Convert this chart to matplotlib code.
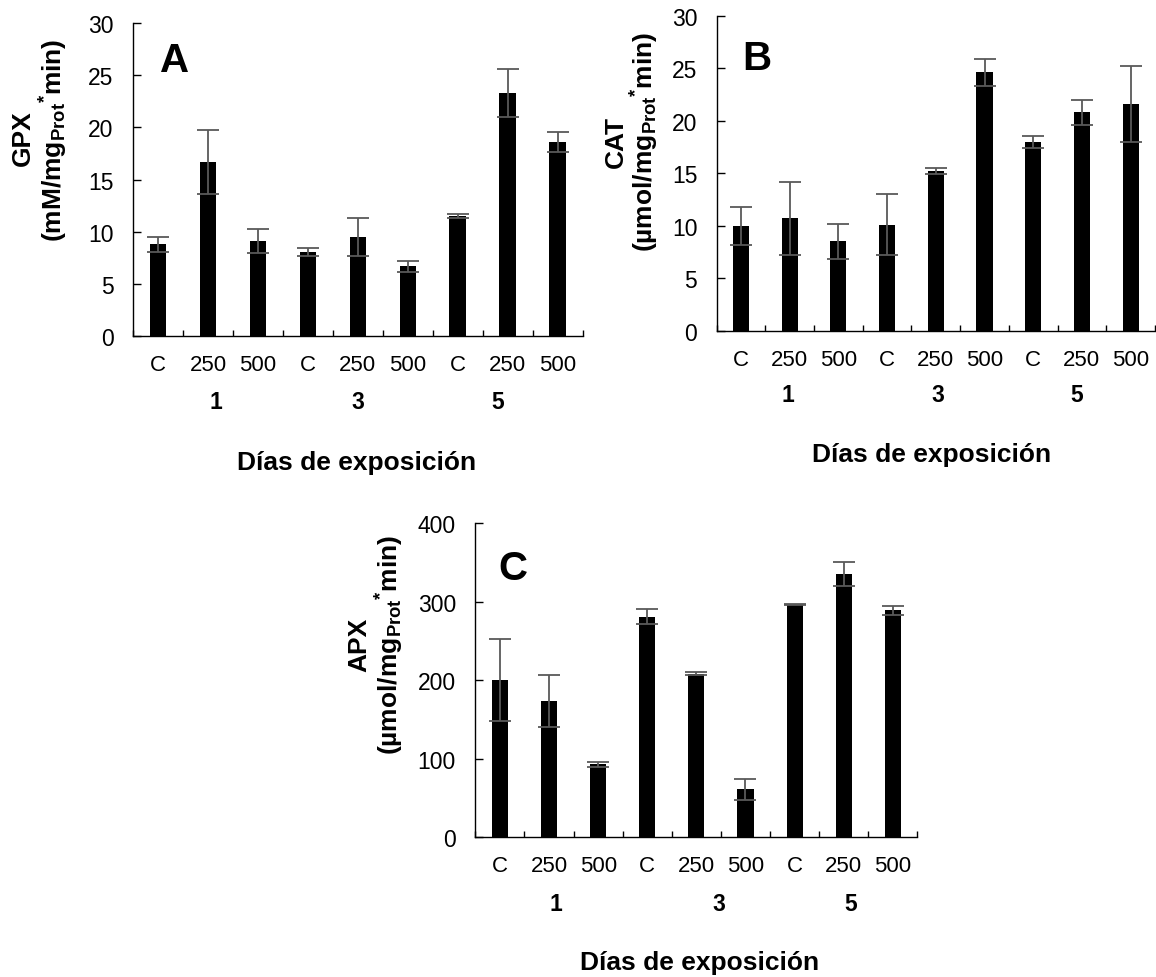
import numpy as np
import matplotlib
matplotlib.use("Agg")
from matplotlib import pyplot as plt

plt.rcParams['font.family'] = ['Liberation Sans', 'DejaVu Sans']
plt.rcParams['mathtext.fontset'] = 'custom'
plt.rcParams['mathtext.rm'] = 'Liberation Sans'
plt.rcParams['mathtext.bf'] = 'Liberation Sans:bold'
plt.rcParams['mathtext.it'] = 'Liberation Sans:italic'

# data
doses = ['C', '250', '500', 'C', '250', '500', 'C', '250', '500']
days = ['1', '3', '5']

gpx = [8.8, 16.7, 9.1, 8.1, 9.5, 6.7, 11.5, 23.3, 18.6]
gpx_err = [0.7, 3.1, 1.15, 0.4, 1.8, 0.55, 0.2, 2.3, 1.0]

cat = [10.0, 10.7, 8.5, 10.1, 15.2, 24.6, 18.0, 20.8, 21.6]
cat_err = [1.8, 3.5, 1.7, 2.9, 0.3, 1.3, 0.55, 1.2, 3.6]

apx = [200, 174, 93, 281, 208, 61, 296, 335, 289]
apx_err = [52, 33, 3.5, 9, 2, 13.5, 0.5, 15, 6]

fig = plt.figure(figsize=(11.56, 9.78), dpi=100)

panels = [
    # rect, values, errors, ymax, ystep, letter, day label x, group label y, letter pos
    ([0.1152, 0.6551, 0.3887, 0.3204], gpx, gpx_err, 30, 5, 'A', [1.16, 4.0, 6.8], -0.2065, (0.06, 0.847)),
    ([0.6200, 0.6608, 0.3791, 0.3221], cat, cat_err, 30, 5, 'B', [0.97, 4.04, 6.9], -0.201, (0.058, 0.831)),
    ([0.4112, 0.1428, 0.3824, 0.3214], apx, apx_err, 400, 100, 'C', [1.14, 4.46, 7.15], -0.212, (0.051, 0.822)),
]

x = np.arange(len(doses))
for rect, vals, errs, ymax, ystep, letter, day_x, day_y, lpos in panels:
    ax = fig.add_axes(rect)
    ax.bar(x, vals, width=0.33, color='black')
    ax.errorbar(x, vals, yerr=errs, fmt='none', ecolor='#595959',
                elinewidth=1.3, capsize=8, capthick=1.3)
    ax.set_xlim(-0.5, 8.5)
    ax.set_ylim(0, ymax)
    ax.set_yticks(np.arange(0, ymax + 1, ystep))
    ax.set_xticks(x)
    ax.set_xticklabels(doses)
    ax.set_xticks(np.arange(-0.5, 9, 1), minor=True)
    ax.tick_params(axis='x', which='major', length=0, pad=13, labelsize=16)
    ax.tick_params(axis='x', which='minor', direction='in', length=4.5, width=1)
    ax.tick_params(axis='y', direction='in', length=6, width=1, pad=14, labelsize=16.5)
    for s in ['top', 'right']:
        ax.spines[s].set_visible(False)
    for s in ['left', 'bottom']:
        ax.spines[s].set_linewidth(1.0)
    for d, dx in zip(days, day_x):
        ax.text(dx, day_y, d, transform=ax.get_xaxis_transform(),
                ha='center', va='center', fontsize=16.5, fontweight='bold')
    ax.text(lpos[0], lpos[1], letter, transform=ax.transAxes,
            ha='left', va='baseline', fontsize=29, fontweight='bold')

W, H = 1156, 978
def fx(px):
    return px / W
def fy(py):
    return 1 - py / H

# y labels (two lines each)
fig.text(fx(23), fy(138), 'GPX', rotation=90, ha='center', va='center',
         fontsize=19, fontweight='bold')
fig.text(fx(54), fy(140), r'(mM/mg$_{\mathbf{Prot}}$$^{\mathbf{*}}$min)', rotation=90,
         ha='center', va='center', fontsize=19, fontweight='bold')
fig.text(fx(616), fy(142), 'CAT', rotation=90, ha='center', va='center',
         fontsize=19, fontweight='bold')
fig.text(fx(645), fy(142), r'(µmol/mg$_{\mathbf{Prot}}$$^{\mathbf{*}}$min)', rotation=90,
         ha='center', va='center', fontsize=19, fontweight='bold')
fig.text(fx(359), fy(645), 'APX', rotation=90, ha='center', va='center',
         fontsize=19, fontweight='bold')
fig.text(fx(390), fy(645), r'(µmol/mg$_{\mathbf{Prot}}$$^{\mathbf{*}}$min)', rotation=90,
         ha='center', va='center', fontsize=19, fontweight='bold')

# x labels
fig.text(fx(357), fy(463), 'Días de exposición', ha='center', va='center',
         fontsize=19, fontweight='bold')
fig.text(fx(932), fy(455), 'Días de exposición', ha='center', va='center',
         fontsize=19, fontweight='bold')
fig.text(fx(700), fy(963), 'Días de exposición', ha='center', va='center',
         fontsize=19, fontweight='bold')

fig.savefig('out.png', dpi=100)
